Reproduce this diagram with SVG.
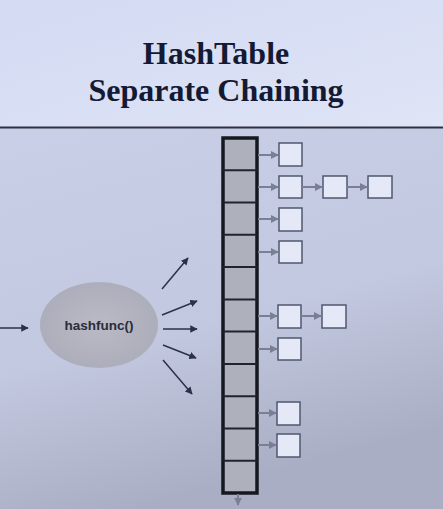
<svg xmlns="http://www.w3.org/2000/svg" width="443" height="509" viewBox="0 0 443 509">
<defs>
<linearGradient id="top" x1="0" y1="0" x2="1" y2="1">
<stop offset="0" stop-color="#d3daf2"/>
<stop offset="1" stop-color="#dfe4f6"/>
</linearGradient>
<linearGradient id="bot" x1="0" y1="0" x2="0.3" y2="1">
<stop offset="0" stop-color="#c9cfe6"/>
<stop offset="0.6" stop-color="#c2c8df"/>
<stop offset="1" stop-color="#a9aec4"/>
</linearGradient>
<radialGradient id="ell" cx="0.5" cy="0.5" r="0.5">
<stop offset="0" stop-color="#b9bac4"/>
<stop offset="1" stop-color="#adaebb"/>
</radialGradient>
<marker id="ah" viewBox="0 0 10 10" refX="9" refY="5" markerWidth="5" markerHeight="5" orient="auto" markerUnits="strokeWidth">
<path d="M0,0 L10,5 L0,10 z" fill="#2a3148"/>
</marker>
<marker id="sh" viewBox="0 0 10 10" refX="9" refY="5" markerWidth="4" markerHeight="4" orient="auto" markerUnits="strokeWidth">
<path d="M0,0 L10,5 L0,10 z" fill="#7a7f95"/>
</marker>
</defs>
<style>
.title{font-family:"Liberation Serif",serif;font-weight:bold;font-size:32px;fill:#141a33;text-anchor:middle}
.box{fill:#e4e8f7;stroke:#4f586f;stroke-width:1.5}
.cell{stroke:#20232e;stroke-width:2}
.fan{stroke:#2a3148;stroke-width:1.5;fill:none;marker-end:url(#ah)}
.lnk{stroke:#7a7f95;stroke-width:2;fill:none;marker-end:url(#sh)}
</style>
<rect x="0" y="0" width="443" height="128" fill="url(#top)"/>
<rect x="0" y="128" width="443" height="381" fill="url(#bot)"/>
<line x1="0" y1="127.5" x2="443" y2="127.5" stroke="#2e3140" stroke-width="2"/>
<text class="title" x="216" y="64">HashTable</text>
<text class="title" x="216" y="101">Separate Chaining</text>

<g id="hashfunc">
<ellipse cx="99" cy="325" rx="59" ry="43" fill="url(#ell)"/>
<text x="99" y="330" font-family="Liberation Sans, sans-serif" font-size="13.5" font-weight="bold" fill="#2a2c38" text-anchor="middle">hashfunc()</text>
</g>

<g id="table">
<rect x="223" y="138" width="34" height="355" fill="#aeb0bb" stroke="#16181f" stroke-width="3.5"/>
<line class="cell" x1="223" y1="170.3" x2="257" y2="170.3"/>
<line class="cell" x1="223" y1="202.5" x2="257" y2="202.5"/>
<line class="cell" x1="223" y1="234.8" x2="257" y2="234.8"/>
<line class="cell" x1="223" y1="267.1" x2="257" y2="267.1"/>
<line class="cell" x1="223" y1="299.4" x2="257" y2="299.4"/>
<line class="cell" x1="223" y1="331.6" x2="257" y2="331.6"/>
<line class="cell" x1="223" y1="363.9" x2="257" y2="363.9"/>
<line class="cell" x1="223" y1="396.2" x2="257" y2="396.2"/>
<line class="cell" x1="223" y1="428.5" x2="257" y2="428.5"/>
<line class="cell" x1="223" y1="460.7" x2="257" y2="460.7"/>
</g>

<g id="nodes">
<rect class="box" x="279" y="143" width="23" height="23"/>
<rect class="box" x="279" y="176" width="23" height="22"/>
<rect class="box" x="323" y="176" width="24" height="22"/>
<rect class="box" x="368" y="176" width="24" height="22"/>
<rect class="box" x="279" y="208" width="23" height="23"/>
<rect class="box" x="279" y="241" width="23" height="22"/>
<rect class="box" x="278" y="305" width="23" height="23"/>
<rect class="box" x="322" y="305" width="24" height="23"/>
<rect class="box" x="278" y="338" width="23" height="22"/>
<rect class="box" x="277" y="402" width="23" height="23"/>
<rect class="box" x="277" y="434" width="23" height="23"/>
</g>

<g id="connectors">
<line class="fan" x1="0" y1="328" x2="28" y2="328"/>
<line class="fan" x1="162" y1="289" x2="188" y2="258"/>
<line class="fan" x1="162" y1="315" x2="197" y2="301"/>
<line class="fan" x1="163" y1="329" x2="197" y2="329"/>
<line class="fan" x1="163" y1="345" x2="196" y2="358"/>
<line class="fan" x1="163" y1="360" x2="192" y2="394"/>
<line class="lnk" x1="258" y1="155" x2="278" y2="155"/>
<line class="lnk" x1="258" y1="187" x2="278" y2="187"/>
<line class="lnk" x1="302" y1="187" x2="322" y2="187"/>
<line class="lnk" x1="347" y1="187" x2="367" y2="187"/>
<line class="lnk" x1="258" y1="219" x2="278" y2="219"/>
<line class="lnk" x1="258" y1="252" x2="278" y2="252"/>
<line class="lnk" x1="258" y1="316" x2="277" y2="316"/>
<line class="lnk" x1="301" y1="316" x2="321" y2="316"/>
<line class="lnk" x1="258" y1="349" x2="277" y2="349"/>
<line class="lnk" x1="258" y1="413" x2="276" y2="413"/>
<line class="lnk" x1="258" y1="445" x2="276" y2="445"/>
<line class="lnk" x1="238" y1="494" x2="238" y2="505" stroke="#2a3148" stroke-width="1"/>
</g>
</svg>
